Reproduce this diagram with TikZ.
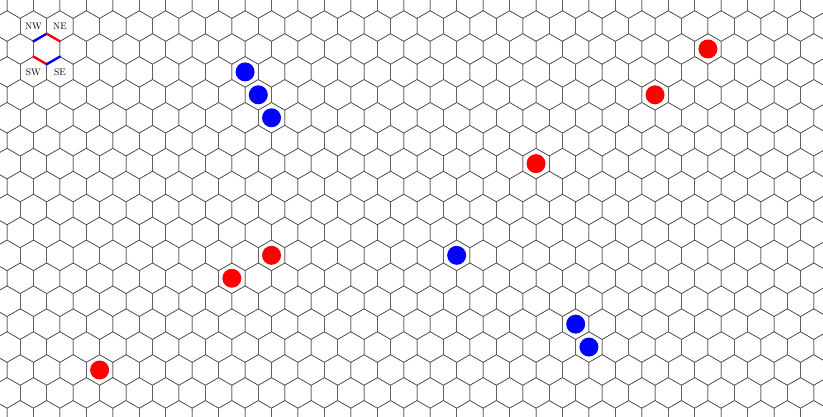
\documentclass[tikz,border=0pt]{standalone}
\usepackage{tikz}
\usetikzlibrary{calc}
\usepackage{xcolor}

\tikzset{
  hexline/.style={black!70, line width=0.5pt},
  side/.style={line width=2.4pt, line cap=round},
  stone/.style={circle, inner sep=0pt, minimum size=19pt},
  corner/.style={font=\fontsize{9.5}{10}\selectfont, inner sep=0pt}
}
% centre of cell (column #1, row #2)
\newcommand{\hexcentre}[2]{%
  \pgfmathsetmacro\hx{20.25+26.45*#1-13.225*mod(#2,2)}%
  \pgfmathsetmacro\hy{3.1+22.93*#2}}

\begin{document}
\begin{tikzpicture}[x=1pt, y=-1pt]
  \useasboundingbox (0,0) rectangle (823,416);
  \clip (0,0) rectangle (823,416);
  % the board
  \foreach \r in {0,...,18}
    \foreach \c in {-1,...,31} {
      \hexcentre{\c}{\r}
      \draw[hexline] (\hx,\hy) ++(0,-15.27) -- ++(13.225,7.635) -- ++(0,15.27)
        -- ++(-13.225,7.635) -- ++(-13.225,-7.635) -- ++(0,-15.27) -- cycle;
    }
  % direction key
  \hexcentre{1}{2}
  \coordinate (key) at (\hx,\hy);
  \draw[side, blue] (key) ++(-13.225,-7.635) -- ++(13.225,-7.635);
  \draw[side, red]  (key) ++(0,-15.27) -- ++(13.225,7.635);
  \draw[side, red]  (key) ++(-13.225,7.635) -- ++(13.225,7.635);
  \draw[side, blue] (key) ++(0,15.27) -- ++(13.225,-7.635);
  \foreach \name/\txt/\c/\r in {nw/NW/1/1, ne/NE/2/1, sw/SW/1/3, se/SE/2/3} {
    \hexcentre{\c}{\r}
    \node[corner] (\name) at (\hx,\hy) {\txt};
  }
  % stones
  \foreach \name/\col/\c/\r in {r1/red/26/2, r2/red/24/4, r3/red/20/7,
      r4/red/10/11, r5/red/8/12, r6/red/3/16,
      b1/blue/9/3, b2/blue/9/4, b3/blue/10/5, b4/blue/17/11,
      b5/blue/21/14, b6/blue/22/15} {
    \hexcentre{\c}{\r}
    \node[stone, fill=\col] (\name) at (\hx,\hy) {};
  }
\end{tikzpicture}
\end{document}
